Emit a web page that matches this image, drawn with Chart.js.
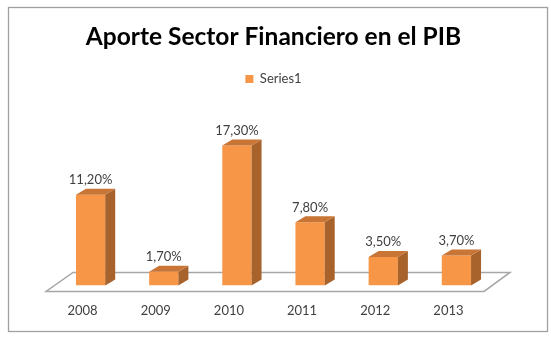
<!DOCTYPE html>
<html>
<head>
<meta charset="utf-8">
<script src="https://cdn.jsdelivr.net/npm/chart.js@4/dist/chart.umd.min.js"></script>
<style>
  html, body { margin: 0; padding: 0; background: #ffffff; }
  #wrap { width: 551px; height: 337px; position: relative; }
</style>
</head>
<body>
<div id="wrap"><canvas id="c" width="551" height="337"></canvas></div>
<script>
const categories = ['2008', '2009', '2010', '2011', '2012', '2013'];
const series1 = [11.2, 1.7, 17.3, 7.8, 3.5, 3.7];
const seriesName = 'Series1';
const titleText = 'Aporte Sector Financiero en el PIB';

const FRONT = '#F79646';
const SIDE = '#A8622B';
const TOP = '#C97535';

function fmt(v) {
  return v.toFixed(2).replace('.', ',') + '%';
}

const frame = {
  id: 'frame',
  beforeDraw(chart) {
    const ctx = chart.ctx;
    ctx.save();
    ctx.fillStyle = '#ffffff';
    ctx.fillRect(0, 0, chart.width, chart.height);
    ctx.strokeStyle = '#A0A0A0';
    ctx.lineWidth = 1.3;
    ctx.strokeRect(8.5, 7.5, 539, 324);
    ctx.restore();
  }
};

const bars3d = {
  id: 'bars3d',
  beforeDatasetsDraw(chart) {
    const ctx = chart.ctx;
    const a = chart.chartArea;
    const y0 = chart.scales.y.getPixelForValue(0);
    const fy = y0 + 6, by = y0 - 13;
    ctx.save();
    ctx.strokeStyle = '#A6A6A6';
    ctx.lineWidth = 1.5;
    ctx.beginPath();
    ctx.moveTo(a.left - 8, fy);
    ctx.lineTo(a.right - 9, fy);
    ctx.lineTo(a.right + 17, by);
    ctx.lineTo(a.left + 19, by);
    ctx.closePath();
    ctx.stroke();
    ctx.restore();
  },
  afterDatasetsDraw(chart) {
    const ctx = chart.ctx;
    const meta = chart.getDatasetMeta(0);
    const dx = 10, dy = -6;
    ctx.save();
    meta.data.forEach((bar, i) => {
      const l = bar.x - bar.width / 2, r = bar.x + bar.width / 2;
      const t = bar.y, b = bar.base;
      ctx.fillStyle = SIDE;
      ctx.beginPath();
      ctx.moveTo(r, t);
      ctx.lineTo(r + dx, t + dy);
      ctx.lineTo(r + dx, b + dy);
      ctx.lineTo(r, b);
      ctx.closePath();
      ctx.fill();
      ctx.fillStyle = TOP;
      ctx.beginPath();
      ctx.moveTo(l, t);
      ctx.lineTo(l + dx, t + dy);
      ctx.lineTo(r + dx, t + dy);
      ctx.lineTo(r, t);
      ctx.closePath();
      ctx.fill();
      ctx.fillStyle = '#404040';
      ctx.font = '13px Lato';
      ctx.textAlign = 'center';
      ctx.textBaseline = 'middle';
      ctx.fillText(fmt(chart.data.datasets[0].data[i]), bar.x, t + dy - 9);
    });
    ctx.restore();
  }
};

new Chart(document.getElementById('c'), {
  type: 'bar',
  data: {
    labels: categories,
    datasets: [{
      label: seriesName,
      data: series1,
      backgroundColor: FRONT,
      borderWidth: 0,
      categoryPercentage: 1,
      barPercentage: 0.4
    }]
  },
  options: {
    responsive: false,
    animation: false,
    devicePixelRatio: 1,
    layout: { padding: { left: 54, right: 58, top: 0, bottom: 0 } },
    plugins: {
      title: {
        display: true,
        text: titleText,
        color: '#000000',
        font: { family: 'Lato', size: 24.5, weight: 'bold' },
        padding: { top: 22, bottom: 11 }
      },
      legend: {
        display: true,
        position: 'top',
        labels: {
          boxWidth: 8,
          boxHeight: 8,
          color: '#404040',
          font: { family: 'Lato', size: 13 },
          padding: 10
        }
      },
      tooltip: { enabled: false }
    },
    scales: {
      x: {
        grid: { display: false, drawTicks: false },
        border: { display: false },
        ticks: {
          color: '#404040',
          font: { family: 'Lato', size: 13 },
          padding: 18,
          labelOffset: -8
        }
      },
      y: {
        display: false,
        min: 0,
        max: 23.5
      }
    }
  },
  plugins: [frame, bars3d]
});
</script>
</body>
</html>
